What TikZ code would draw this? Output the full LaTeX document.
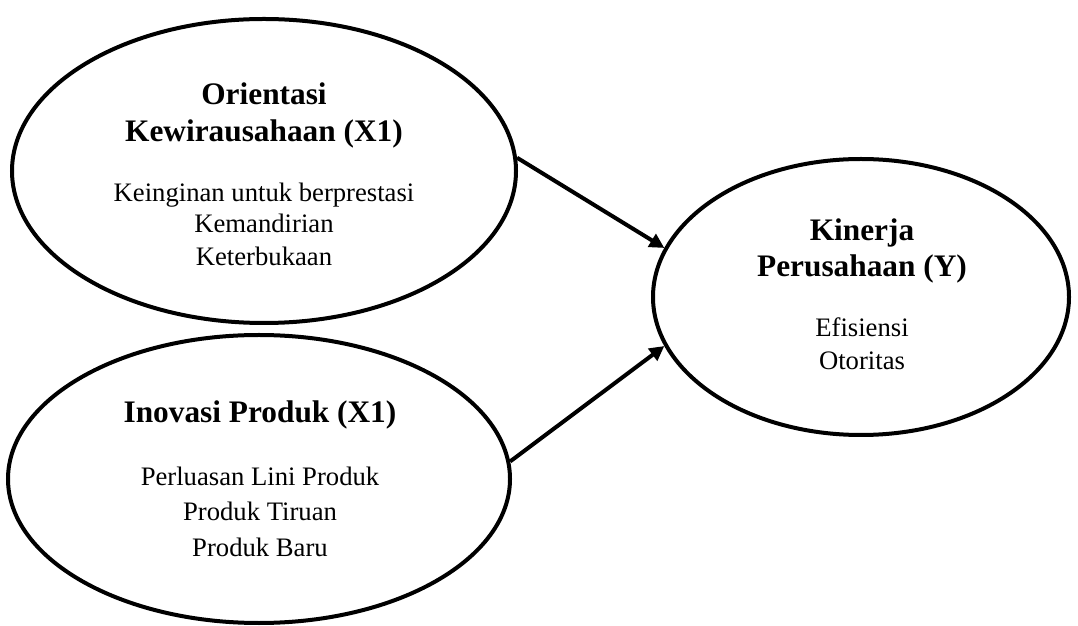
\documentclass[tikz,border=0pt]{standalone}
\usepackage{fontspec}
\setmainfont{Liberation Serif}
\usetikzlibrary{shapes.geometric,arrows.meta}
\begin{document}
\begin{tikzpicture}[x=0.75pt,y=0.75pt,
  construct/.style={draw,ellipse,line width=3pt,inner sep=0pt},
  title/.style={font=\fontsize{23.5}{28}\selectfont\bfseries,anchor=base,inner sep=0pt},
  item/.style={font=\fontsize{20}{24}\selectfont,anchor=base,inner sep=0pt},
  link/.style={line width=3pt,-{Triangle[length=11pt,width=11pt]}}]
\useasboundingbox (0,0) rectangle (1078,625);
\node[construct,minimum width=378pt,minimum height=228pt] (X1) at (264,454) {};
\node[construct,minimum width=376.5pt,minimum height=216pt] (X2) at (259,146) {};
\node[construct,minimum width=312pt,minimum height=207pt] (Y) at (861,328) {};

\node[title] (t1a) at (264,520) {Orientasi};
\node[title] (t1b) at (264,483) {Kewirausahaan (X1)};
\node[item] (i1a) at (264,423) {Keinginan untuk berprestasi};
\node[item] (i1b) at (264,392) {Kemandirian};
\node[item] (i1c) at (264,359) {Keterbukaan};

\node[title] (t2) at (260,202) {Inovasi Produk (X1)};
\node[item] (i2a) at (260,139) {Perluasan Lini Produk};
\node[item] (i2b) at (260,104) {Produk Tiruan};
\node[item] (i2c) at (260,69) {Produk Baru};

\node[title] (t3a) at (862,384) {Kinerja};
\node[title] (t3b) at (862,348) {Perusahaan (Y)};
\node[item] (i3a) at (862,288) {Efisiensi};
\node[item] (i3b) at (862,255) {Otoritas};

\draw[link] (X1.3) -- (Y.166);
\draw[link] (X2.4) -- (Y.194);
\end{tikzpicture}
\end{document}
